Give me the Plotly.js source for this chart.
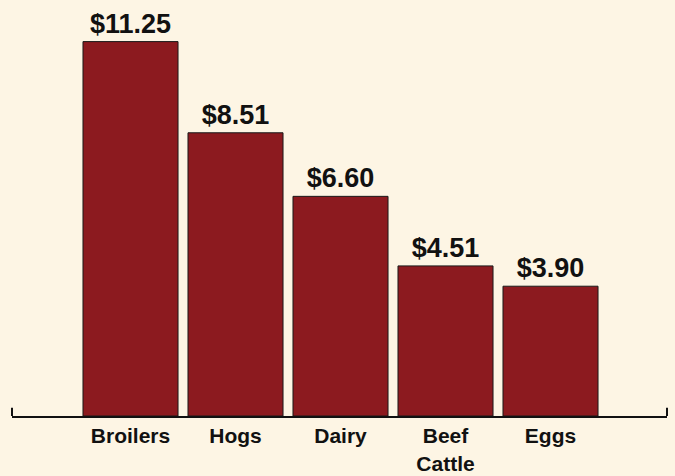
<!DOCTYPE html>
<html>
<head>
<meta charset="utf-8">
<script src="https://cdn.plot.ly/plotly-3.0.1.min.js"></script>
<style>html,body{margin:0;padding:0;background:#fdf5e4;}</style>
</head>
<body>
<div id="chart" style="width:675px;height:476px;"></div>
<script>
const categories = ["Broilers", "Hogs", "Dairy", "Beef<br>Cattle", "Eggs"];
const values = [11.25, 8.51, 6.60, 4.51, 3.90];
const positions = [0, 1, 2, 3, 4];

const trace = {
  type: 'bar',
  x: positions,
  y: values,
  width: 0.905,
  marker: {color: '#8c1a1f', line: {color: '#1a1a1a', width: 1}},
  texttemplate: '$%{y:.2f}',
  textposition: 'outside',
  cliponaxis: false,
  textfont: {family: 'Liberation Sans, Arial, sans-serif', size: 27, color: '#111', weight: 'bold'},
  hoverinfo: 'none'
};

const layout = {
  width: 675, height: 476,
  margin: {l: 12, r: 8, t: 0, b: 60},
  paper_bgcolor: '#fdf5e4',
  plot_bgcolor: '#fdf5e4',
  showlegend: false,
  xaxis: {
    range: [-1.1286, 5.1095],
    tickvals: positions,
    ticktext: categories,
    showline: true, linecolor: '#111', linewidth: 2,
    showgrid: false, zeroline: false, ticks: '',
    tickfont: {family: 'Liberation Sans, Arial, sans-serif', size: 21, color: '#111', weight: 'bold'},
    fixedrange: true
  },
  yaxis: {
    range: [0, 12.5],
    visible: false,
    showgrid: false, zeroline: false,
    fixedrange: true
  },
  shapes: [
    {type: 'line', xref: 'paper', yref: 'paper', x0: 0, x1: 0, y0: 0, y1: 0.02, line: {color: '#111', width: 2}},
    {type: 'line', xref: 'paper', yref: 'paper', x0: 1, x1: 1, y0: 0, y1: 0.02, line: {color: '#111', width: 2}}
  ]
};

Plotly.newPlot('chart', [trace], layout, {displayModeBar: false, staticPlot: true});
</script>
</body>
</html>
